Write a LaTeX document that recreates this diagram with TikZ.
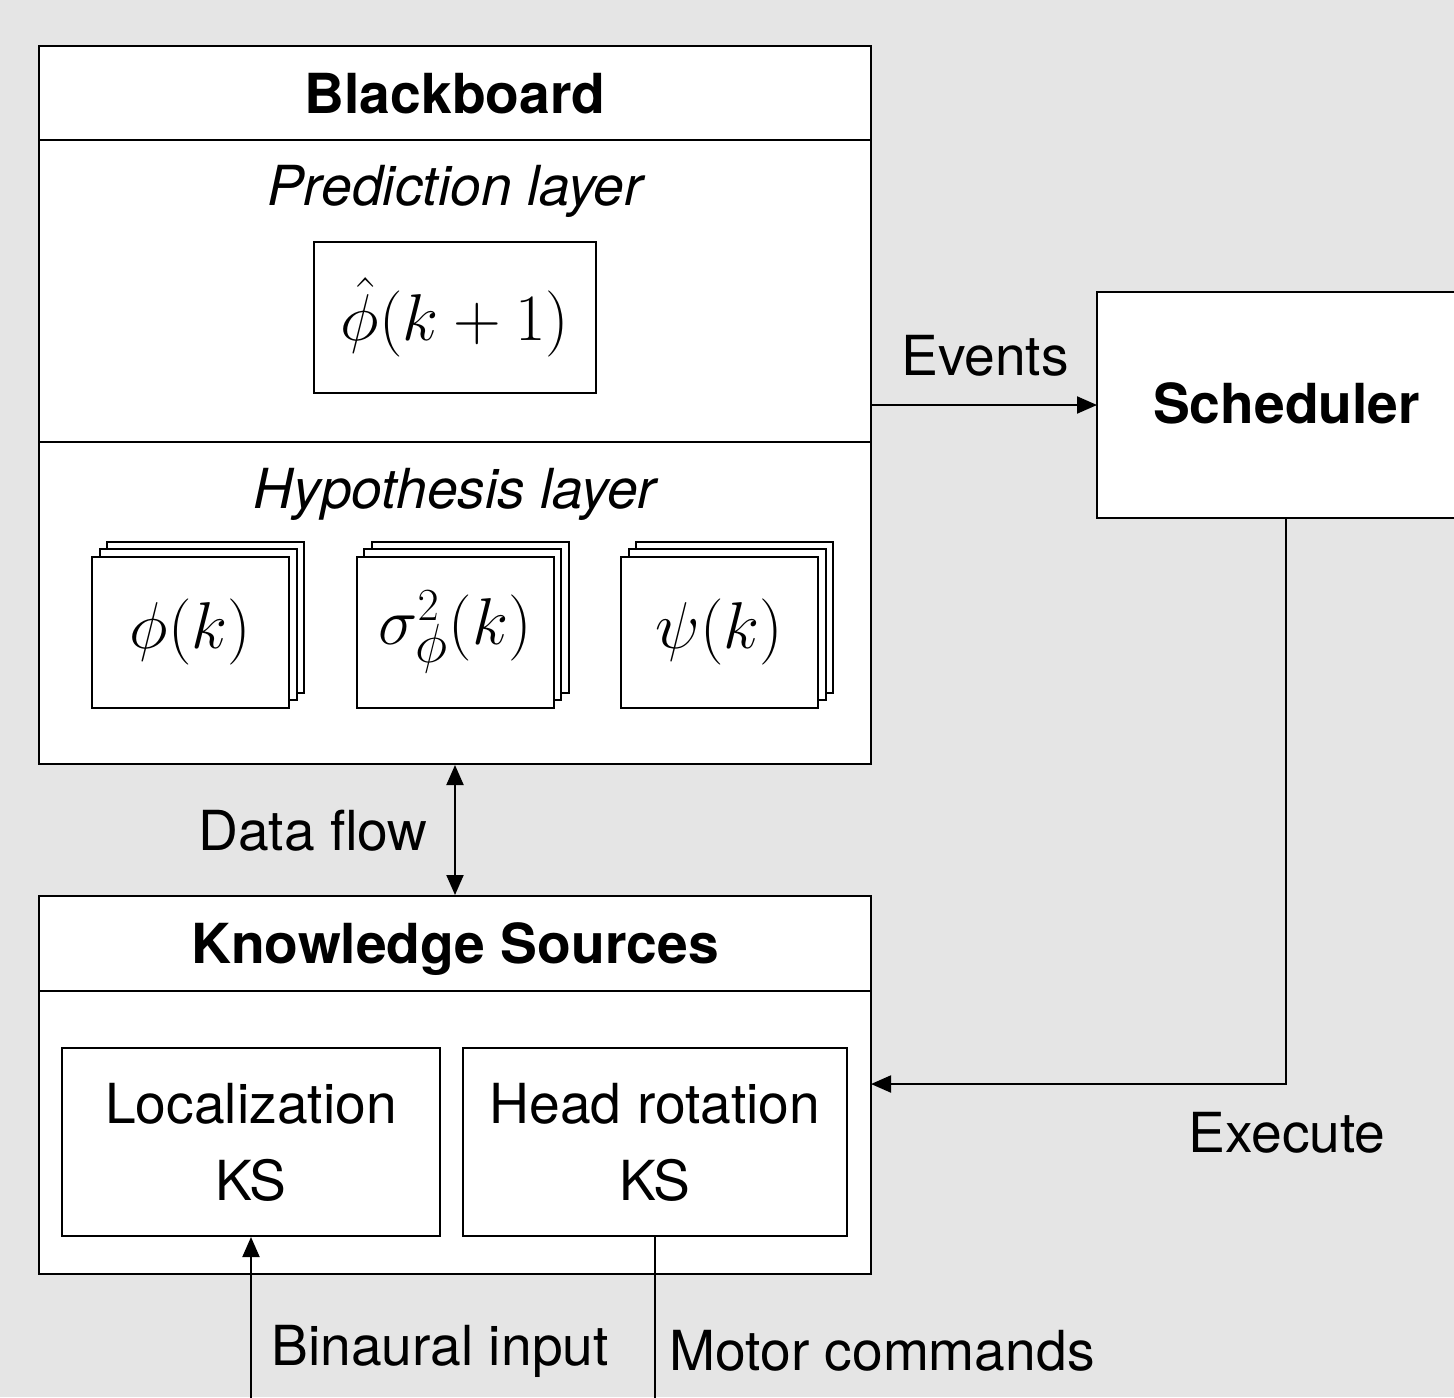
\documentclass[tikz,border=0pt]{standalone}
\usepackage{graphicx}
\usepackage[no-math]{fontspec}
\setmainfont{TeX Gyre Heros}
\usetikzlibrary{arrows.meta}
\definecolor{bg}{HTML}{E5E5E5}
\newcommand{\mymath}[1]{\scalebox{1.33}{$#1$}}
\tikzset{
  txt/.style={font=\fontsize{27.6}{38.5}\selectfont, inner sep=0pt},
  btxt/.style={font=\fontsize{27.6}{38.5}\selectfont\bfseries, inner sep=0pt},
  itxt/.style={font=\fontsize{27.6}{38.5}\selectfont\itshape, inner sep=0pt},
  box/.style={draw=black, fill=white, line width=1pt, inner sep=0pt, rectangle},
  stackbox/.style={box, minimum width=98.5pt, minimum height=75.5pt, font=\fontsize{24.88}{30}\selectfont},
  arr/.style={line width=1pt, -{Triangle[length=10pt,width=8.5pt]}},
  darr/.style={line width=1pt, {Triangle[length=10pt,width=8.5pt]}-{Triangle[length=10pt,width=8.5pt]}},
  ln/.style={line width=1pt}
}
\begin{document}
\begin{tikzpicture}[x=0.5pt, y=-0.5pt]
\path[use as bounding box] (0,0) rectangle (1454,1397);
\fill[bg] (0,0) rectangle (1454,1397);
\clip (0,0) rectangle (1454,1397);

% Blackboard
\node[box, minimum width=416pt, minimum height=47pt] (bbtitle) at (455,93) {};
\node[box, minimum width=416pt, minimum height=151pt] (pred) at (455,291) {};
\node[box, minimum width=416pt, minimum height=161pt] (hyp) at (455,603) {};
\node[btxt, anchor=base] (bblbl) at (455,113) {Blackboard};
\node[itxt, anchor=base] (predlbl) at (455,205) {Prediction layer};
\node[itxt, anchor=base] (hyplbl) at (455,508) {Hypothesis layer};
\node[box, minimum width=141pt, minimum height=75.5pt, font=\fontsize{24.88}{30}\selectfont] (phihat) at (455,317.5) {\mymath{\hat{\phi}(k+1)}};

% stacks
\node[stackbox] (s1c) at (205.5,617) {};
\node[stackbox] (s1b) at (198,624.5) {};
\node[stackbox] (s1a) at (190.5,632) {\mymath{\phi(k)}};
\node[stackbox] (s2c) at (470,617) {};
\node[stackbox] (s2b) at (462.5,624.5) {};
\node[stackbox] (s2a) at (455,632) {\mymath{\sigma^{\scriptscriptstyle 2}_{\phi}(k)}};
\node[stackbox] (s3c) at (734.5,617) {};
\node[stackbox] (s3b) at (727,624.5) {};
\node[stackbox] (s3a) at (719.5,632) {\mymath{\psi(k)}};

% Scheduler
\node[box, minimum width=189pt, minimum height=113pt] (sched) at (1286,405) {};
\node[btxt, anchor=base] (schedlbl) at (1286.5,423) {Scheduler};

% Knowledge sources
\node[box, minimum width=416pt, minimum height=47.5pt] (kstitle) at (455,943.5) {};
\node[btxt, anchor=base] (kslbl) at (455,963) {Knowledge Sources};
\node[box, minimum width=416pt, minimum height=141.5pt] (ksbody) at (455,1132.5) {};
\node[box, txt, align=center, minimum width=189pt, minimum height=94pt] (loc) at (251,1142) {Localization\\KS};
\node[box, txt, align=center, minimum width=192pt, minimum height=94pt] (head) at (655,1142) {Head rotation\\KS};

% connectors
\coordinate (evout) at (871,405);
\coordinate (evin) at (1097,405);
\draw[arr] (evout) -- (evin);
\node[txt, anchor=base] (evlbl) at (985,375) {Events};

\draw[darr] (hyp.south) -- (kstitle.north);
\node[txt, anchor=base] (dflbl) at (313,850) {Data flow};

\coordinate (exin) at (871,1084);
\draw[arr] (sched.south) |- (exin);
\node[txt, anchor=base] (exlbl) at (1287,1152) {Execute};

\coordinate (binbot) at (251,1410);
\draw[arr] (binbot) -- (loc.south);
\node[txt, anchor=base] (binlbl) at (440,1365) {Binaural input};

\coordinate (motbot) at (655,1410);
\draw[ln] (head.south) -- (motbot);
\node[txt, anchor=base] (motlbl) at (882,1370) {Motor commands};
\end{tikzpicture}
\end{document}
